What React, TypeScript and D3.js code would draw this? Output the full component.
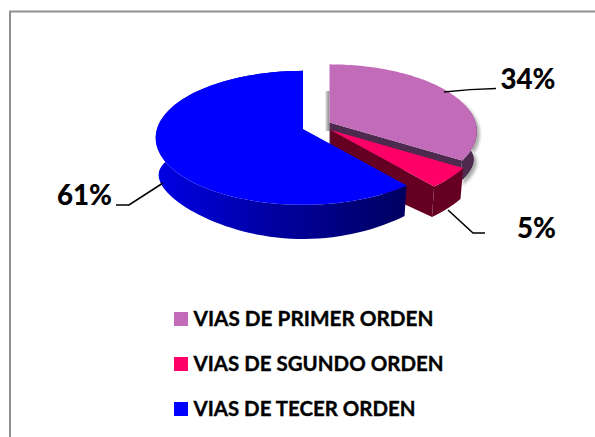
import React from "react";
import * as d3 from "d3";

const categories = ["VIAS DE PRIMER ORDEN", "VIAS DE SGUNDO ORDEN", "VIAS DE TECER ORDEN"];
const shares = [34, 5, 61];
const percentLabels = ["34%", "5%", "61%"];
const topColors = ["#c26cb9", "#ff0066", "#0000ff"];
const rimDepths = [31, 40, 40];

const R = 146;
const K = 65.8;
const P = 0.132;
const SCALE_X = 0.98;
const BOTTOM_K = 42.7;
const BOTTOM_P = 0.39;
const centres: [number, number][] = [[329.5, 122.5], [330.5, 130], [303, 129]];
const FONT = "Lato, 'Open Sans', sans-serif";

const pieAngles = d3.pie<number>().sort(null)(shares);

function project(i: number, a: number, bottom: boolean): [number, number] {
  const c = centres[i];
  const cos = Math.cos(a);
  const x = c[0] + ((bottom ? SCALE_X : 1) * R * Math.sin(a)) / (1 + P * cos);
  const y = bottom
    ? c[1] + rimDepths[i] - (BOTTOM_K * cos) / (1 + BOTTOM_P * cos)
    : c[1] - (K * cos) / (1 + P * cos);
  return [x, y];
}
function arcPts(i: number, a0: number, a1: number, bottom: boolean) {
  const n = 90;
  return d3.range(n + 1).map((k) => project(i, a0 + ((a1 - a0) * k) / n, bottom));
}
const line = d3.line();
const path = (pts: [number, number][]) => line(pts)! + "Z";

function topFace(i: number) {
  const p = pieAngles[i];
  return path([centres[i], ...arcPts(i, p.startAngle, p.endAngle, false)]);
}
function rim(i: number, a0: number, a1: number) {
  return path([...arcPts(i, a0, a1, false), ...arcPts(i, a0, a1, true).reverse()]);
}
function radialWall(i: number, a: number) {
  const c = centres[i];
  const cb: [number, number] = [c[0], c[1] + rimDepths[i]];
  return path([c, project(i, a, false), project(i, a, true), cb]);
}

export default function App() {
  const [p0, p1, p2] = pieAngles;
  const legendBaseline = [326, 371, 416];
  const legendWidths = [240, 250, 222];
  return (
    <svg width={595} height={437} style={{ position: "absolute", left: 0, top: 0, background: "#fff" }}>
      <defs>
        <linearGradient id="blueRim" gradientUnits="userSpaceOnUse" x1={157} x2={406} y1={0} y2={0}>
          <stop offset="0" stopColor="#0000e4" />
          <stop offset="0.5" stopColor="#00009c" />
          <stop offset="1" stopColor="#000060" />
        </linearGradient>
        <linearGradient id="backShadow" x1="0" x2="1" y1="0" y2="0">
          <stop offset="0" stopColor="#ddd" />
          <stop offset="1" stopColor="#888" />
        </linearGradient>
        <filter id="soft" x="-20%" y="-20%" width="140%" height="140%">
          <feGaussianBlur stdDeviation="1.4" />
        </filter>
      </defs>

      <path d="M10 437V11.5H595" fill="none" stroke="#8f8f8f" strokeWidth={2} />

      {/* soft shadows behind the first slice */}
      <path d={rim(0, 1.2, p0.endAngle)} fill="#777" opacity={0.6} filter="url(#soft)" transform="translate(3,3)" />
      <rect x={325.5} y={91} width={4} height={40} fill="url(#backShadow)" />

      {/* first slice */}
      <path d={rim(0, 1.4, p0.endAngle)} fill="#4e2a4f" />
      <path d={radialWall(0, p0.endAngle)} fill="#4e2a4f" />
      <path d={topFace(0)} fill={topColors[0]} />

      {/* second slice */}
      <path d={radialWall(1, p1.endAngle)} fill="#660022" />
      <path d={rim(1, p1.startAngle, p1.endAngle)} fill="#660022" />
      <path d={topFace(1)} fill={topColors[1]} />

      {/* third slice */}
      <path d={rim(2, p2.startAngle, p2.endAngle)} fill="url(#blueRim)" />
      <path d={topFace(2)} fill={topColors[2]} />

      {/* leader lines */}
      <g fill="none" stroke="#000" strokeWidth={1.6}>
        <path d="M444 92Q470 89 496 88.5" />
        <path d="M448 210L473 233H485" />
        <path d="M163 183L129 205H116" />
      </g>

      <g fontFamily={FONT} fontWeight={900} fill="#000" fontSize={28}>
        <text x={500.5} y={89} textLength={55} lengthAdjust="spacingAndGlyphs">{percentLabels[0]}</text>
        <text x={517} y={238} textLength={39} lengthAdjust="spacingAndGlyphs">{percentLabels[1]}</text>
        <text x={57} y={205} textLength={55} lengthAdjust="spacingAndGlyphs">{percentLabels[2]}</text>
      </g>

      {categories.map((c, i) => (
        <g key={c}>
          <rect x={174} y={legendBaseline[i] - 14} width={14} height={14} fill={topColors[i]} />
          <text x={193.5} y={legendBaseline[i]} fontFamily={FONT} fontWeight={700} fontSize={20} fill="#000"
            stroke="#000" strokeWidth={0.35}
            textLength={legendWidths[i]} lengthAdjust="spacingAndGlyphs">{c}</text>
        </g>
      ))}
    </svg>
  );
}
